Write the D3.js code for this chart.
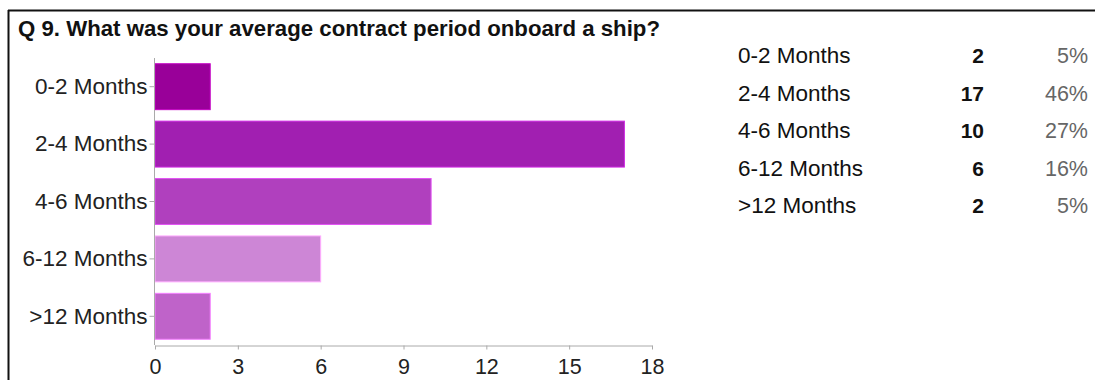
<!DOCTYPE html>
<html>
<head>
<meta charset="utf-8">
<script src="https://cdn.jsdelivr.net/npm/d3@7"></script>
<style>
  html, body { margin: 0; padding: 0; background: #fff; }
  svg { display: block; font-family: "Liberation Sans", Arial, sans-serif; }
</style>
</head>
<body>
<svg id="chart" width="1095" height="380"></svg>
<script>
// Survey question and answer data
const title = "Q 9. What was your average contract period onboard a ship?";
const categories = ["0-2 Months", "2-4 Months", "4-6 Months", "6-12 Months", ">12 Months"];
const counts = [2, 17, 10, 6, 2];
const percents = ["5%", "46%", "27%", "16%", "5%"];
const barColors = ["#990099", "#a11fb1", "#b040be", "#cd86d6", "#bf63c9"];
const xTicks = [0, 3, 6, 9, 12, 15, 18];

const svg = d3.select("#chart");

// Frame: top rule and left rule
svg.append("line").attr("x1", 8).attr("x2", 1095).attr("y1", 10.5).attr("y2", 10.5)
  .attr("stroke", "#111").attr("stroke-width", 2);
svg.append("line").attr("x1", 8.5).attr("x2", 8.5).attr("y1", 10).attr("y2", 380)
  .attr("stroke", "#111").attr("stroke-width", 2);

// Title
svg.append("text")
  .attr("x", 18).attr("y", 36)
  .attr("font-size", 21.5).attr("font-weight", "bold").attr("fill", "#111")
  .attr("textLength", 642).attr("lengthAdjust", "spacingAndGlyphs")
  .text(title);

// Scales
const x = d3.scaleLinear().domain([0, 18]).range([155, 652]);
const y = d3.scaleBand().domain(categories).range([58, 345]).paddingInner(0.2).paddingOuter(0.1);

// Bars
svg.append("g").selectAll("rect")
  .data(categories)
  .join("rect")
  .attr("x", x(0))
  .attr("y", d => y(d))
  .attr("width", (d, i) => x(counts[i]) - x(0))
  .attr("height", y.bandwidth())
  .attr("fill", (d, i) => barColors[i])
  .attr("stroke", (d, i) => d3.color(barColors[i]).brighter(0.7))
  .attr("stroke-width", 1);

// Y axis with category labels
const yAxis = svg.append("g")
  .attr("transform", `translate(${x(0) - 0.5},0)`)
  .call(d3.axisLeft(y).tickSize(5).tickPadding(2).tickSizeOuter(0));
yAxis.select(".domain").attr("stroke", "#aaa").attr("d", "M0,58V345");
yAxis.selectAll(".tick line").attr("stroke", "#aaa");
yAxis.selectAll(".tick text")
  .attr("font-size", 22.5).attr("fill", "#222")
  .attr("font-family", "Liberation Sans, Arial, sans-serif");

// X axis
const xAxis = svg.append("g")
  .attr("transform", "translate(0,345.5)")
  .call(d3.axisBottom(x).tickValues(xTicks).tickSize(4).tickPadding(9).tickSizeOuter(0));
xAxis.select(".domain").attr("stroke", "#aaa");
xAxis.selectAll(".tick line").attr("stroke", "#aaa");
xAxis.selectAll(".tick text")
  .attr("font-size", 21.5).attr("fill", "#222")
  .attr("font-family", "Liberation Sans, Arial, sans-serif");

// Summary table on the right
const rowY = d3.scalePoint().domain(categories).range([63, 213]);
const table = svg.append("g");
table.selectAll("text.label")
  .data(categories)
  .join("text")
  .attr("class", "label")
  .attr("x", 738).attr("y", d => rowY(d))
  .attr("font-size", 22.5).attr("fill", "#111")
  .text(d => d);
table.selectAll("text.count")
  .data(categories)
  .join("text")
  .attr("class", "count")
  .attr("x", 984).attr("y", d => rowY(d))
  .attr("font-size", 21).attr("text-anchor", "end").attr("font-weight", "bold").attr("fill", "#111")
  .text((d, i) => counts[i]);
table.selectAll("text.pct")
  .data(categories)
  .join("text")
  .attr("class", "pct")
  .attr("x", 1088).attr("y", d => rowY(d))
  .attr("font-size", 21.5).attr("text-anchor", "end").attr("fill", "#666")
  .text((d, i) => percents[i]);
</script>
</body>
</html>
